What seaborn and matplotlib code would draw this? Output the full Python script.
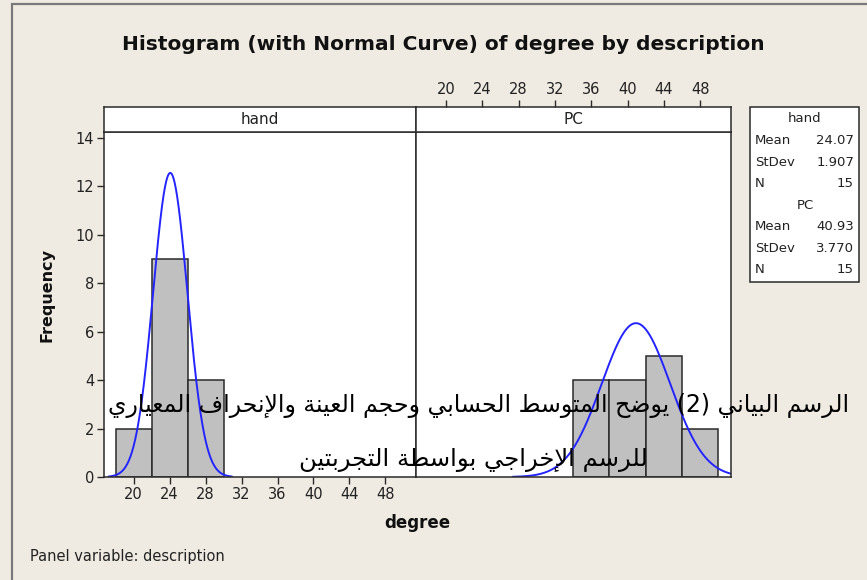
import numpy as np
import pandas as pd
import matplotlib
matplotlib.use("Agg")
import matplotlib.pyplot as plt
import seaborn as sns
from matplotlib.patches import Rectangle

# ---------------- data ----------------
panels = ["hand", "PC"]
hand_edges = [18, 22, 26, 30]
hand_counts = [2, 9, 4]
pc_edges = [34, 38, 42, 46, 50]
pc_counts = [4, 4, 5, 2]
means = [24.07, 40.93]
stdevs = [1.907, 3.770]
ns = [15, 15]
stat_names = ["Mean", "StDev", "N"]
hand_stat_text = ["24.07", "1.907", "15"]
pc_stat_text = ["40.93", "3.770", "15"]
x_ticks = [20, 24, 28, 32, 36, 40, 44, 48]
y_ticks = [0, 2, 4, 6, 8, 10, 12, 14]
title = "Histogram (with Normal Curve) of degree by description"
x_label = "degree"
y_label = "Frequency"
footer = "Panel variable: description"
arabic_line1 = "الرسم البياني (2) يوضح المتوسط الحسابي وحجم العينة والإنحراف المعياري"
arabic_line2 = "للرسم الإخراجي بواسطة التجربتين"

# ---------------- Arabic shaping (matplotlib has no complex text layout) ----------------
AR_FORMS = {  # isolated, final, initial, medial
    "ا": ("\uFE8D", "\uFE8E", None, None),
    "إ": ("\uFE87", "\uFE88", None, None),
    "ب": ("\uFE8F", "\uFE90", "\uFE91", "\uFE92"),
    "ة": ("\uFE93", "\uFE94", None, None),
    "ت": ("\uFE95", "\uFE96", "\uFE97", "\uFE98"),
    "ج": ("\uFE9D", "\uFE9E", "\uFE9F", "\uFEA0"),
    "ح": ("\uFEA1", "\uFEA2", "\uFEA3", "\uFEA4"),
    "خ": ("\uFEA5", "\uFEA6", "\uFEA7", "\uFEA8"),
    "ر": ("\uFEAD", "\uFEAE", None, None),
    "س": ("\uFEB1", "\uFEB2", "\uFEB3", "\uFEB4"),
    "ض": ("\uFEBD", "\uFEBE", "\uFEBF", "\uFEC0"),
    "ط": ("\uFEC1", "\uFEC2", "\uFEC3", "\uFEC4"),
    "ع": ("\uFEC9", "\uFECA", "\uFECB", "\uFECC"),
    "ف": ("\uFED1", "\uFED2", "\uFED3", "\uFED4"),
    "ل": ("\uFEDD", "\uFEDE", "\uFEDF", "\uFEE0"),
    "م": ("\uFEE1", "\uFEE2", "\uFEE3", "\uFEE4"),
    "ن": ("\uFEE5", "\uFEE6", "\uFEE7", "\uFEE8"),
    "و": ("\uFEED", "\uFEEE", None, None),
    "ي": ("\uFEF1", "\uFEF2", "\uFEF3", "\uFEF4"),
}
LAM_ALEF = {"ا": ("\uFEFB", "\uFEFC"), "إ": ("\uFEF9", "\uFEFA")}


def shape_word(word):
    tokens = []
    i = 0
    while i < len(word):
        c = word[i]
        if c == "ل" and i + 1 < len(word) and word[i + 1] in LAM_ALEF:
            tokens.append(("LA", word[i + 1]))
            i += 2
        else:
            tokens.append(("C", c))
            i += 1

    def dual(t):
        return t[0] == "C" and t[1] in AR_FORMS and AR_FORMS[t[1]][2] is not None

    def arabic(t):
        return t[0] == "LA" or t[1] in AR_FORMS

    out = []
    for k, t in enumerate(tokens):
        prev_join = k > 0 and dual(tokens[k - 1]) and arabic(t)
        if t[0] == "LA":
            out.append(LAM_ALEF[t[1]][1 if prev_join else 0])
            continue
        if t[1] not in AR_FORMS:
            out.append(t[1])
            continue
        f = AR_FORMS[t[1]]
        next_join = dual(t) and k + 1 < len(tokens) and arabic(tokens[k + 1])
        if prev_join and next_join:
            out.append(f[3])
        elif prev_join:
            out.append(f[1])
        elif next_join:
            out.append(f[2])
        else:
            out.append(f[0])
    return "".join(out)


def to_visual(text):
    vis = []
    for w in text.split(" "):
        if any(ch in AR_FORMS for ch in w):
            vis.append(shape_word(w)[::-1])
        else:
            vis.append(w)
    return " ".join(reversed(vis))


# ---------------- style ----------------
W, H = 867, 580
BG = "#f0ebe2"
EDGE = "#2a2a2a"
BAR = "#c0c0c0"
CURVE = "#2424ff"
sns.set_style("white")
plt.rcParams["font.family"] = ["DejaVu Sans"]


def fx(px):
    return px / W


def fy(py):
    return 1 - py / H


fig = plt.figure(figsize=(W / 100, H / 100), dpi=100)
fig.patch.set_facecolor(BG)

# outer frame
fig.patches.append(Rectangle((fx(12), -0.1), 1.2, fy(4) + 0.1, transform=fig.transFigure,
                             fill=False, edgecolor="#7a7a7a", lw=1.6))

XL = (16.7, 51.4)
YL = (0, 14.24)
x_left, x_mid, x_right = 104, 416, 731
y_strip_top, y_data_top, y_bottom = 107, 132, 477

edges_list = [hand_edges, pc_edges]
counts_list = [hand_counts, pc_counts]
bounds = [(x_left, x_mid), (x_mid, x_right)]

for i, name in enumerate(panels):
    x0, x1 = bounds[i]
    ax = fig.add_axes([fx(x0), fy(y_bottom), fx(x1) - fx(x0), fy(y_data_top) - fy(y_bottom)])
    ax.set_facecolor("white")
    edges = [float(e) for e in edges_list[i]]
    centers = [(a + b) / 2 for a, b in zip(edges[:-1], edges[1:])]
    df = pd.DataFrame({"degree": centers, "count": [float(c) for c in counts_list[i]]})
    sns.histplot(data=df, x="degree", weights="count", bins=edges, ax=ax,
                 color=BAR, edgecolor=EDGE, linewidth=1.1, alpha=1)
    bw = edges[1] - edges[0]
    m, s = means[i], stdevs[i]
    xs = np.linspace(m - 3.6 * s, m + 3.6 * s, 400)
    ys = ns[i] * bw * np.exp(-0.5 * ((xs - m) / s) ** 2) / (s * np.sqrt(2 * np.pi))
    sns.lineplot(x=xs, y=ys, ax=ax, color=CURVE, lw=1.4)
    ax.set_xlim(*XL)
    ax.set_ylim(*YL)
    ax.set_xlabel("")
    ax.set_ylabel("")
    for sp in ax.spines.values():
        sp.set_color(EDGE)
        sp.set_linewidth(1.1)
    ax.tick_params(direction="out", length=5, width=1, color=EDGE,
                   labelsize=10.5, pad=2, labelcolor="#222222")
    if i == 0:
        ax.set_xticks(x_ticks)
        ax.set_yticks(y_ticks)
        ax.tick_params(left=True, bottom=True)
    else:
        ax.set_xticks([])
        ax.set_yticks([])

    # strip
    sax = fig.add_axes([fx(x0), fy(y_data_top), fx(x1) - fx(x0), fy(y_strip_top) - fy(y_data_top)])
    sax.set_facecolor("white")
    sax.set_xlim(*XL)
    sax.set_ylim(0, 1)
    sax.set_yticks([])
    for sp in sax.spines.values():
        sp.set_color(EDGE)
        sp.set_linewidth(1.1)
    sax.text(0.5, 0.5, name, transform=sax.transAxes, ha="center", va="center",
             fontsize=11, color="#222222")
    if i == 1:
        sax.xaxis.tick_top()
        sax.set_xticks(x_ticks)
        sax.tick_params(axis="x", direction="out", length=5, width=1, color=EDGE,
                        labelsize=10.5, pad=2, labelcolor="#222222")
    else:
        sax.set_xticks([])

# titles and labels
fig.text(fx(443), fy(45), title, ha="center", va="center", fontsize=14.5,
         fontweight="bold", color="#111111")
fig.text(fx(47), fy(295), y_label, rotation=90, ha="center", va="center",
         fontsize=11.5, fontweight="bold", color="#111111")
fig.text(fx(417), fy(523), x_label, ha="center", va="center", fontsize=12,
         fontweight="bold", color="#111111")
fig.text(fx(30), fy(557), footer, ha="left", va="center", fontsize=10.5, color="#222222")

# stats box
bx0, bx1, by0, by1 = 750, 859, 107, 282
fig.patches.append(Rectangle((fx(bx0), fy(by1)), fx(bx1) - fx(bx0), fy(by0) - fy(by1),
                             transform=fig.transFigure, facecolor="white",
                             edgecolor=EDGE, lw=1.1))
row_y = 119
for name, vals in zip(panels, [hand_stat_text, pc_stat_text]):
    fig.text(fx(805), fy(row_y), name, ha="center", va="center", fontsize=9.5, color="#222222")
    row_y += 21.5
    for lab, v in zip(stat_names, vals):
        fig.text(fx(755), fy(row_y), lab, ha="left", va="center", fontsize=9.5, color="#222222")
        fig.text(fx(854), fy(row_y), v, ha="right", va="center", fontsize=9.5, color="#222222")
        row_y += 21.5
    row_y += 0.5

# Arabic caption overlay
fig.text(fx(479), fy(405), to_visual(arabic_line1), ha="center", va="center",
         fontsize=17, color="black", family=["DejaVu Sans"])
fig.text(fx(473), fy(460), to_visual(arabic_line2), ha="center", va="center",
         fontsize=17.5, color="black", family=["DejaVu Sans"])

fig.savefig("out.png", dpi=100, facecolor=BG)
